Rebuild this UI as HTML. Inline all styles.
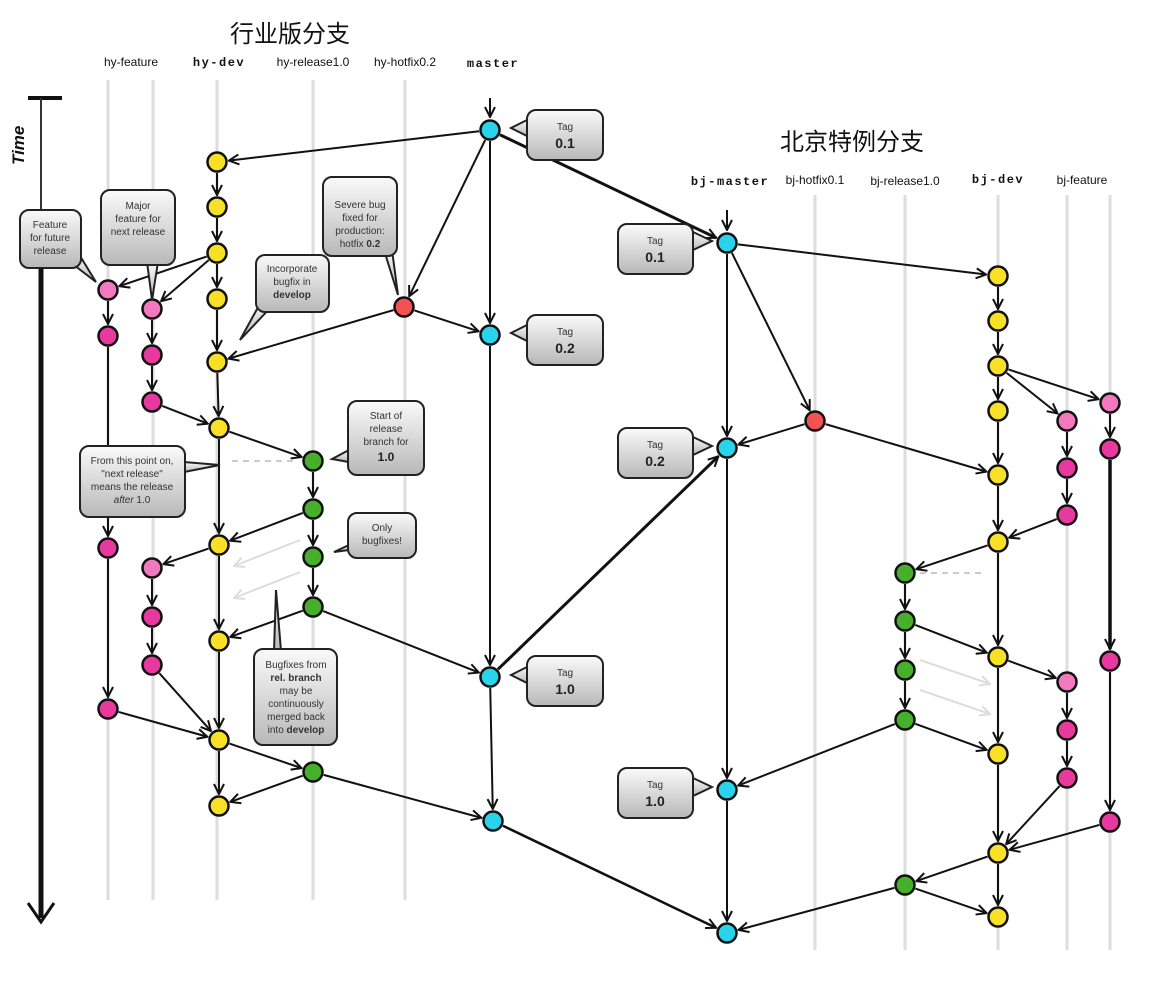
<!DOCTYPE html>
<html><head><meta charset="utf-8">
<style>
html,body{margin:0;padding:0;background:#fff;}
svg{display:block;}
.lbl{font-family:"Liberation Sans",sans-serif;font-size:12px;fill:#111;text-anchor:middle;}
.mono{font-family:"Liberation Mono",monospace;font-size:12px;font-weight:bold;fill:#111;text-anchor:middle;letter-spacing:1.5px;}
.hdr{font-family:"Liberation Sans","Noto Sans CJK SC",sans-serif;font-size:24px;fill:#111;text-anchor:middle;}
.co{font-family:"Liberation Sans",sans-serif;font-size:10px;fill:#333;text-anchor:middle;}
.tag{font-family:"Liberation Sans",sans-serif;font-size:10px;fill:#333;text-anchor:middle;}
.tagv{font-family:"Liberation Sans",sans-serif;font-size:14px;font-weight:bold;fill:#222;text-anchor:middle;}
</style></head>
<body>
<svg id="s" width="1156" height="982" viewBox="0 0 1156 982" xmlns="http://www.w3.org/2000/svg">
<defs>
<linearGradient id="g" x1="0" y1="0" x2="0" y2="1"><stop offset="0" stop-color="#fafafa"/><stop offset="1" stop-color="#b8b8b8"/></linearGradient>
<marker id="a" viewBox="0 0 12 12" refX="11" refY="6" markerWidth="12" markerHeight="12" markerUnits="userSpaceOnUse" orient="auto"><path d="M1,1 L11,6 L1,11" fill="none" stroke="#111" stroke-width="2"/></marker>
<marker id="al" viewBox="0 0 12 12" refX="11" refY="6" markerWidth="12" markerHeight="12" markerUnits="userSpaceOnUse" orient="auto"><path d="M1,1 L11,6 L1,11" fill="none" stroke="#ddd" stroke-width="2"/></marker>
</defs>
<g id="lanes" stroke="#ddd" stroke-width="3">
<line x1="108" y1="80" x2="108" y2="900"/><line x1="153" y1="80" x2="153" y2="900"/>
<line x1="217" y1="80" x2="217" y2="900"/><line x1="313" y1="80" x2="313" y2="900"/>
<line x1="405" y1="80" x2="405" y2="900"/>
<line x1="815" y1="195" x2="815" y2="950"/><line x1="905" y1="195" x2="905" y2="950"/>
<line x1="998" y1="195" x2="998" y2="950"/><line x1="1067" y1="195" x2="1067" y2="950"/><line x1="1110" y1="195" x2="1110" y2="950"/>
</g>
<!-- time axis -->
<line x1="28" y1="98" x2="62" y2="98" stroke="#111" stroke-width="4"/>
<line x1="41" y1="98" x2="41" y2="250" stroke="#333" stroke-width="2"/>
<line x1="41" y1="250" x2="41" y2="918" stroke="#111" stroke-width="5"/>
<path d="M28,903 L41,922 L54,903" fill="none" stroke="#111" stroke-width="3"/>
<text x="0" y="0" transform="translate(24,165) rotate(-90)" font-family="Liberation Sans,sans-serif" font-size="17" font-weight="bold" font-style="italic" fill="#111">Time</text>

<text class="hdr" x="290" y="42">行业版分支</text>
<text class="hdr" x="852" y="150">北京特例分支</text>
<text class="lbl" x="131" y="66">hy-feature</text>
<text class="mono" x="219" y="66">hy-dev</text>
<text class="lbl" x="313" y="66">hy-release1.0</text>
<text class="lbl" x="405" y="66">hy-hotfix0.2</text>
<text class="mono" x="493" y="67">master</text>
<text class="mono" x="730" y="185">bj-master</text>
<text class="lbl" x="815" y="184">bj-hotfix0.1</text>
<text class="lbl" x="905" y="185">bj-release1.0</text>
<text class="mono" x="998" y="183">bj-dev</text>
<text class="lbl" x="1082" y="184">bj-feature</text>

<g id="edges"></g>
<g id="nodes"></g>

<!-- callouts -->
<g stroke="#222" stroke-width="2" fill="url(#g)">
<path d="M527,120 L511,128 L527,136 Z"/><rect x="527" y="110" width="76" height="50" rx="9"/>
<path d="M527,325 L511,333 L527,341 Z"/><rect x="527" y="315" width="76" height="50" rx="9"/>
<path d="M527,667 L511,675 L527,683 Z"/><rect x="527" y="656" width="76" height="50" rx="9"/>
<path d="M693,232 L712,241 L693,250 Z"/><rect x="618" y="224" width="75" height="50" rx="9"/>
<path d="M693,437 L712,446 L693,455 Z"/><rect x="618" y="428" width="75" height="50" rx="9"/>
<path d="M693,778 L712,787 L693,796 Z"/><rect x="618" y="768" width="75" height="50" rx="9"/>
<path d="M70,262 L96,282 L80,256 Z"/><rect x="20" y="210" width="61" height="58" rx="9"/>
<path d="M147,262 L152,300 L158,262 Z"/><rect x="101" y="190" width="74" height="75" rx="9"/>
<path d="M384,250 L398,295 L392,250 Z"/><rect x="323" y="177" width="74" height="79" rx="9"/>
<path d="M262,300 L240,340 L272,306 Z"/><rect x="256" y="255" width="73" height="57" rx="9"/>
<path d="M349,450 L332,459 L349,462 Z"/><rect x="348" y="401" width="76" height="74" rx="9"/>
<path d="M184,462 L220,465 L184,472 Z"/><rect x="80" y="446" width="105" height="71" rx="9"/>
<path d="M349,545 L334,552 L349,550 Z"/><rect x="348" y="513" width="68" height="45" rx="9"/>
<path d="M274,651 L276,590 L281,651 Z"/><rect x="254" y="649" width="83" height="96" rx="9"/>
</g>
<g>
<text class="tag" x="565" y="130">Tag</text><text class="tagv" x="565" y="148">0.1</text>
<text class="tag" x="565" y="335">Tag</text><text class="tagv" x="565" y="353">0.2</text>
<text class="tag" x="565" y="676">Tag</text><text class="tagv" x="565" y="694">1.0</text>
<text class="tag" x="655" y="244">Tag</text><text class="tagv" x="655" y="262">0.1</text>
<text class="tag" x="655" y="448">Tag</text><text class="tagv" x="655" y="466">0.2</text>
<text class="tag" x="655" y="788">Tag</text><text class="tagv" x="655" y="806">1.0</text>
<text class="co" x="50" y="228">Feature</text><text class="co" x="50" y="241">for future</text><text class="co" x="50" y="254">release</text>
<text class="co" x="138" y="209">Major</text><text class="co" x="138" y="222">feature for</text><text class="co" x="138" y="235">next release</text>
<text class="co" x="360" y="208">Severe bug</text><text class="co" x="360" y="221">fixed for</text><text class="co" x="360" y="234">production:</text><text class="co" x="360" y="247">hotfix <tspan font-weight="bold">0.2</tspan></text>
<text class="co" x="292" y="272">Incorporate</text><text class="co" x="292" y="285">bugfix in</text><text class="co" x="292" y="298" font-weight="bold">develop</text>
<text class="co" x="386" y="419">Start of</text><text class="co" x="386" y="432">release</text><text class="co" x="386" y="445">branch for</text><text class="tagv" x="386" y="461" style="font-size:12px">1.0</text>
<text class="co" x="132" y="464">From this point on,</text><text class="co" x="132" y="477">"next release"</text><text class="co" x="132" y="490">means the release</text><text class="co" x="132" y="503"><tspan font-style="italic">after</tspan> 1.0</text>
<text class="co" x="382" y="531">Only</text><text class="co" x="382" y="544">bugfixes!</text>
<text class="co" x="296" y="668">Bugfixes from</text><text class="co" x="296" y="681" font-weight="bold">rel. branch</text><text class="co" x="296" y="694">may be</text><text class="co" x="296" y="707">continuously</text><text class="co" x="296" y="720">merged back</text><text class="co" x="296" y="733">into <tspan font-weight="bold">develop</tspan></text>
</g>
</svg>
<script>
var NS="http://www.w3.org/2000/svg";
var Y="#f8e026",P="#f279bd",M="#e8399f",G="#46b02a",C="#2ad3ec",R="#f25252";
var N={
m1:[490,130,C],m2:[490,335,C],m3:[490,677,C],m4:[493,821,C],
d1:[217,162,Y],d2:[217,207,Y],d3:[217,253,Y],d4:[217,299,Y],d5:[217,362,Y],d6:[219,428,Y],d7:[219,545,Y],d8:[219,641,Y],d9:[219,740,Y],d10:[219,806,Y],
f1:[108,290,P],f2:[108,336,M],f3:[108,548,M],f4:[108,709,M],
g1:[152,309,P],g2:[152,355,M],g3:[152,402,M],g4:[152,568,P],g5:[152,617,M],g6:[152,665,M],
h:[404,307,R],
r1:[313,461,G],r2:[313,509,G],r3:[313,557,G],r4:[313,607,G],r5:[313,772,G],
B1:[727,243,C],B2:[727,448,C],B3:[727,790,C],B4:[727,933,C],
H:[815,421,R],
D1:[998,276,Y],D2:[998,321,Y],D3:[998,366,Y],D4:[998,411,Y],D5:[998,475,Y],D6:[998,542,Y],D7:[998,657,Y],D8:[998,754,Y],D9:[998,853,Y],D10:[998,917,Y],
R1:[905,573,G],R2:[905,621,G],R3:[905,670,G],R4:[905,720,G],R5:[905,885,G],
E1:[1067,421,P],E2:[1067,468,M],E3:[1067,515,M],E4:[1067,682,P],E5:[1067,730,M],E6:[1067,778,M],
F1:[1110,403,P],F2:[1110,449,M],F3:[1110,661,M],F4:[1110,822,M]};
var E="m1 d1,m1 m2,m2 m3,m3 m4,m1 h,d1 d2,d2 d3,d3 d4,d4 d5,d5 d6,d6 d7,d7 d8,d8 d9,d9 d10,d3 f1,d3 g1,f1 f2,f2 f3,f3 f4,g1 g2,g2 g3,g3 d6,h d5,h m2,d6 r1,r1 r2,r2 r3,r3 r4,r2 d7,r4 d8,r4 m3,d9 r5,r5 d10,r5 m4,d7 g4,g4 g5,g5 g6,g6 d9,f4 d9,"+
"B1 B2,B2 B3,B3 B4,B1 D1,B1 H,H B2,H D5,D1 D2,D2 D3,D3 D4,D4 D5,D5 D6,D6 D7,D7 D8,D8 D9,D9 D10,D3 E1,D3 F1,E1 E2,E2 E3,E3 D6,F1 F2,F2 F3,F3 F4,F4 D9,D6 R1,R1 R2,R2 R3,R3 R4,R2 D7,R4 D8,R4 B3,D7 E4,E4 E5,E5 E6,E6 D9,D9 R5,R5 D10,R5 B3";
E="m1 d1,m1 m2,m2 m3,m3 m4,m1 h,d1 d2,d2 d3,d3 d4,d4 d5,d5 d6,d6 d7,d7 d8,d8 d9,d9 d10,d3 f1,d3 g1,f1 f2,f2 f3,f3 f4,g1 g2,g2 g3,g3 d6,h d5,h m2,d6 r1,r1 r2,r2 r3,r3 r4,r2 d7,r4 d8,r4 m3,d9 r5,r5 d10,r5 m4,d7 g4,g4 g5,g5 g6,g6 d9,f4 d9,B1 B2,B2 B3,B3 B4,B1 D1,B1 H,H B2,H D5,D1 D2,D2 D3,D3 D4,D4 D5,D5 D6,D6 D7,D7 D8,D8 D9,D9 D10,D3 E1,D3 F1,E1 E2,E2 E3,E3 D6,F1 F2,F2 F3,F3 F4,F4 D9,D6 R1,R1 R2,R2 R3,R3 R4,R2 D7,R4 D8,R4 B3,D7 E4,E4 E5,E5 E6,E6 D9,D9 R5,R5 D10,R5 B4";
var eg=document.getElementById("edges"),ng=document.getElementById("nodes");
function ln(x1,y1,x2,y2,w,c,mk,dash){var l=document.createElementNS(NS,"line");l.setAttribute("x1",x1);l.setAttribute("y1",y1);l.setAttribute("x2",x2);l.setAttribute("y2",y2);l.setAttribute("stroke",c||"#111");l.setAttribute("stroke-width",w||2);if(mk)l.setAttribute("marker-end","url(#"+mk+")");if(dash)l.setAttribute("stroke-dasharray",dash);eg.appendChild(l);}
function edge(a,b,w){var dx=b[0]-a[0],dy=b[1]-a[1],d=Math.sqrt(dx*dx+dy*dy),ux=dx/d,uy=dy/d;ln(a[0]+ux*11,a[1]+uy*11,b[0]-ux*12,b[1]-uy*12,w||2,"#111","a");}
E.split(",").forEach(function(s){var p=s.split(" ");edge(N[p[0]],N[p[1]],p[0]=="F2"?3.5:2);});
// thick long merges
edge(N.m1,N.B1,3);edge(N.m3,N.B2,3);edge(N.m4,N.B4,2.5);
// entry arrows
ln(490,98,490,117,2,"#111","a");ln(727,210,727,230,2,"#111","a");
// dashed
ln(232,461,298,461,2,"#ccc",null,"6,5");ln(920,573,985,573,2,"#ccc",null,"6,5");
// light arrows
ln(300,540,234,566,2,"#ddd","al");ln(300,572,234,598,2,"#ddd","al");
ln(920,660,990,684,2,"#ddd","al");ln(920,690,990,714,2,"#ddd","al");
for(var k in N){var n=N[k],c=document.createElementNS(NS,"circle");c.setAttribute("cx",n[0]);c.setAttribute("cy",n[1]);c.setAttribute("r",9.5);c.setAttribute("fill",n[2]);c.setAttribute("stroke","#111");c.setAttribute("stroke-width",2.5);ng.appendChild(c);}
</script>
</body></html>
